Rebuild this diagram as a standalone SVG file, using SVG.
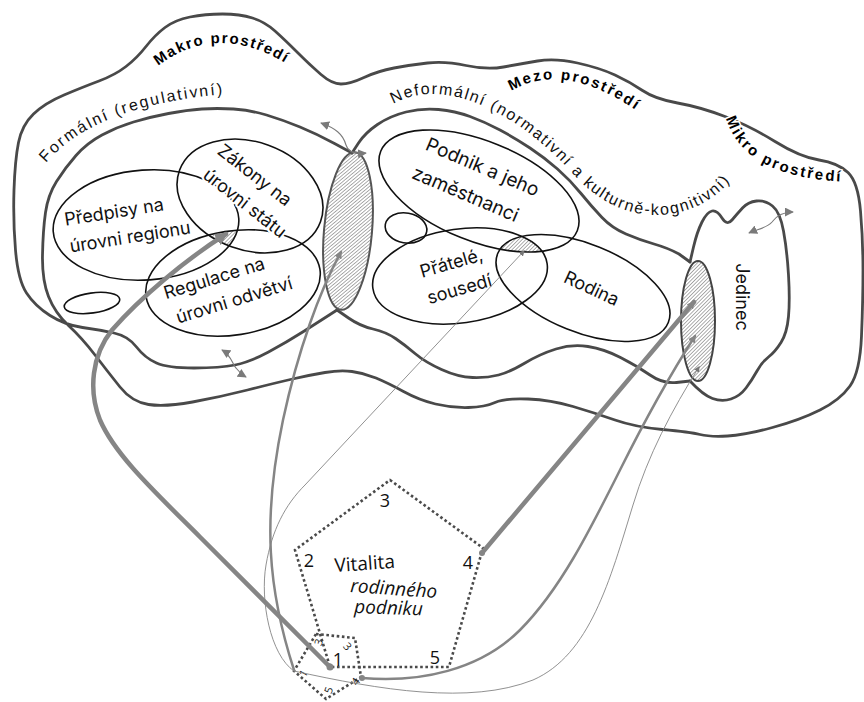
<svg xmlns="http://www.w3.org/2000/svg" width="864" height="702" viewBox="0 0 864 702">
<style>
.bd{fill:none;stroke:#4a4a4a;stroke-width:2.8;stroke-linejoin:round;stroke-linecap:round;filter:url(#soft)}
.el{fill:none;stroke:#111;stroke-width:1.6}
.lbl{font-family:Inter,'Liberation Sans',sans-serif;font-size:18px;fill:#111;text-anchor:middle;stroke:#fff;stroke-width:4;paint-order:stroke;stroke-linejoin:round}
.reg{font-family:'Liberation Sans',Arial,sans-serif;font-size:16px;fill:#111;letter-spacing:2px;stroke:#fff;stroke-width:3;paint-order:stroke}
.env{font-family:'Liberation Sans',Arial,sans-serif;font-size:15px;font-weight:bold;fill:#000;letter-spacing:1.6px;stroke:#fff;stroke-width:3;paint-order:stroke}
.pen{fill:none;stroke:#4a4a4a;stroke-width:2.6;stroke-dasharray:2.6 2.6}
.num{font-family:'Open Sans','Noto Sans',sans-serif;font-size:18px;fill:#111;text-anchor:middle}
.sn{font-family:'Open Sans','Noto Sans',sans-serif;font-size:11px;fill:#222;text-anchor:middle;dominant-baseline:central}
.vit{font-family:'Open Sans','Noto Sans',sans-serif;font-size:19px;fill:#111}
.cn{fill:none;stroke:#858585;stroke-linecap:round}
.dbl{fill:none;stroke:#7a7a7a;stroke-width:1.1;marker-start:url(#dh);marker-end:url(#dh)}
</style>
<defs>
<filter id="soft" x="-5%" y="-5%" width="110%" height="110%"><feGaussianBlur stdDeviation="0.65"/></filter>
<pattern id="hatch" patternUnits="userSpaceOnUse" width="2.6" height="2.6" patternTransform="rotate(45)"><line x1="0" y1="0" x2="0" y2="2.6" stroke="#5a5a5a" stroke-width="1"/></pattern>
<marker id="dh" viewBox="0 0 10 10" refX="9" refY="5" markerWidth="9" markerHeight="9" markerUnits="userSpaceOnUse" orient="auto-start-reverse"><path d="M0,0 L10,5 L0,10 z" fill="#7a7a7a"/></marker>
<marker id="a12" viewBox="0 0 10 10" refX="8" refY="5" markerWidth="13" markerHeight="13" markerUnits="userSpaceOnUse" orient="auto"><path d="M0,0 L10,5 L0,10 z" fill="#858585"/></marker>
<marker id="a8" viewBox="0 0 10 10" refX="8" refY="5" markerWidth="8" markerHeight="8" markerUnits="userSpaceOnUse" orient="auto"><path d="M0,0 L10,5 L0,10 z" fill="#858585"/></marker>
<marker id="a6" viewBox="0 0 10 10" refX="8" refY="5" markerWidth="6" markerHeight="6" markerUnits="userSpaceOnUse" orient="auto"><path d="M0,0 L10,5 L0,10 z" fill="#777"/></marker>
<clipPath id="cPred"><ellipse cx="0" cy="0" rx="93" ry="55" transform="translate(146,225) rotate(-4)"/></clipPath>
<clipPath id="cZak"><ellipse cx="0" cy="0" rx="75" ry="54" transform="translate(250,196) rotate(20)"/></clipPath>
<clipPath id="cReg"><ellipse cx="0" cy="0" rx="88" ry="52" transform="translate(233,283) rotate(-9)"/></clipPath>
<clipPath id="cPod"><ellipse cx="0" cy="0" rx="106" ry="50" transform="translate(479,191) rotate(22)"/></clipPath>
<clipPath id="cPra"><ellipse cx="0" cy="0" rx="88" ry="47" transform="translate(460,276) rotate(-8)"/></clipPath>
<clipPath id="cRod"><ellipse cx="0" cy="0" rx="92" ry="44" transform="translate(583,288) rotate(22)"/></clipPath>
<path id="tpMakro" d="M 158,66 Q 218,20 290,66"/>
<path id="tpForm" d="M 46,163 Q 95,105 226,94"/>
<path id="tpNef" d="M 393,104 C 425,86 462,95 492,110 C 522,125 550,148 577,178 C 602,205 636,219 670,214 C 703,209 728,191 745,158"/>
<path id="tpMezo" d="M 511,91 Q 568,58 648,119"/>
<path id="tpMikro" d="M 726,118 Q 744,180 854,182"/>
</defs>
<rect width="864" height="702" fill="#fff"/>

<g id="boundaries">
<path class="bd" d="M 337,310 L 328.5,315.5 Q 320,321 303.5,331.5 Q 287,342 268.5,352 Q 250,362 235,365 Q 220,368 194,368 Q 168,368 156.5,363 Q 145,358 136.5,347 Q 128,336 114,333 Q 100,330 82.5,327.5 Q 65,325 50,315.5 Q 35,306 26.5,293 Q 18,280 15.5,250 Q 13,220 14,190 Q 15,160 18.5,142.5 Q 22,125 33.5,114 Q 45,103 64,95 Q 83,87 99,81 Q 115,75 126,66.5 Q 137,58 146,46.5 Q 155,35 165,27.5 Q 175,20 190,17 Q 205,14 222.5,14 Q 240,14 252.5,18 Q 265,22 275,31 Q 285,40 297.5,52.5 Q 310,65 321,74.5 Q 332,84 341,84 Q 350,84 364,77.5 Q 378,71 394,68 Q 410,65 427.5,63 Q 445,61 466,65.5 Q 487,70 503.5,67 Q 520,64 537.5,61 Q 555,58 577.5,63 Q 600,68 615,75 Q 630,82 642.5,90.5 Q 655,99 677.5,103 Q 700,107 725,116.5 Q 750,126 775,141.5 Q 800,157 819,160 Q 838,163 848,172.5 Q 858,182 860.5,211 Q 863,240 863,270 Q 863,300 861.5,336 Q 860,372 850,386 Q 840,400 820,410 Q 800,420 772.5,427.5 Q 745,435 727.5,436 Q 710,437 700,434.5 Q 690,432 662.5,429.5 Q 635,427 615,420 Q 595,413 573,406.5 Q 551,400 528,399 Q 505,398 495,402.5 Q 485,407 468.5,407.5 Q 452,408 435.5,404 Q 419,400 403.5,391.5 Q 388,383 376,378 Q 364,373 352,371.5 Q 340,370 325,372.5 Q 310,375 292.5,379 Q 275,383 247.5,390 Q 220,397 192.5,402 Q 165,407 148.5,404.5 Q 132,402 120,387 Q 108,372 95,355 Q 82,338 68.5,325.5 Q 55,313 48.5,296.5 Q 42,280 42.5,255 Q 43,230 45.5,212.5 Q 48,195 56.5,181.5 Q 65,168 76,155.5 Q 87,143 102,135 Q 117,127 133.5,122 Q 150,117 168.5,113.5 Q 187,110 202,109 Q 217,108 233.5,109 Q 250,110 266.5,115 Q 283,120 300,127 Q 317,134 334.5,143.5 L 352,153"/>
<path class="bd" d="M 352,153 L 358.5,143 Q 365,133 377.5,124.5 Q 390,116 406,112 Q 422,108 438.5,109.5 Q 455,111 470,116.5 Q 485,122 500,130 Q 515,138 530,148 Q 545,158 557.5,169 Q 570,180 581,193.5 Q 592,207 602,217.5 Q 612,228 626,234 Q 640,240 654,244 Q 668,248 679,254 L 690,262"/>
<path class="bd" d="M 690,381 L 676.5,382.5 Q 663,384 650,375 Q 637,366 620.5,357.5 Q 604,349 588,346.5 Q 572,344 556,349 Q 540,354 525,363 Q 510,372 498.5,375 Q 487,378 472.5,377.5 Q 458,377 441.5,369.5 Q 425,362 415,353.5 Q 405,345 395.5,338.5 Q 386,332 373,329 Q 360,326 348.5,318 L 337,310"/>
<path class="bd" d="M 690,262 L 693.5,247 Q 697,232 702,222 Q 707,212 712,211 Q 717,210 722,218 Q 727,226 732,220 Q 737,214 742.5,208 Q 748,202 756.5,201 Q 765,200 772.5,206 Q 780,212 783.5,231 Q 787,250 788.5,275 Q 790,300 788.5,316.5 Q 787,333 781,342.5 Q 775,352 768.5,357 Q 762,362 757,371 Q 752,380 746,388 Q 740,396 731,399 Q 722,402 712.5,398.5 Q 703,395 690,381"/>
</g>

<g id="lens-formal-informal">
<ellipse cx="0" cy="0" rx="24" ry="79" transform="translate(348,231) rotate(5)" fill="url(#hatch)" stroke="#555" stroke-width="2"/>
</g>
<g id="lens-jedinec">
<ellipse cx="698" cy="321" rx="17" ry="60" fill="url(#hatch)" stroke="#444" stroke-width="2"/>
</g>

<g id="hatch-formal">
<g clip-path="url(#cPred)"><g clip-path="url(#cZak)"><rect x="170" y="190" width="100" height="80" fill="url(#hatch)" clip-path="url(#cReg)"/></g></g>
</g>
<g id="hatch-informal">
<g clip-path="url(#cPod)"><g clip-path="url(#cPra)"><rect x="480" y="200" width="100" height="80" fill="url(#hatch)" clip-path="url(#cRod)"/></g></g>
</g>

<g id="node-predpisy">
<ellipse class="el" cx="0" cy="0" rx="93" ry="55" transform="translate(146,225) rotate(-4)"/>
</g>
<g id="node-zakony">
<ellipse class="el" cx="0" cy="0" rx="75" ry="54" transform="translate(250,196) rotate(20)"/>
</g>
<g id="node-regulace">
<ellipse class="el" cx="0" cy="0" rx="88" ry="52" transform="translate(233,283) rotate(-9)"/>
</g>
<g id="node-small-formal">
<ellipse class="el" cx="0" cy="0" rx="28" ry="10" transform="translate(92,303) rotate(-8)"/>
</g>
<g id="node-podnik">
<ellipse class="el" cx="0" cy="0" rx="106" ry="50" transform="translate(479,191) rotate(22)"/>
</g>
<g id="node-small-informal">
<ellipse class="el" cx="0" cy="0" rx="21" ry="15" transform="translate(406,228) rotate(10)"/>
</g>
<g id="node-pratele">
<ellipse class="el" cx="0" cy="0" rx="88" ry="47" transform="translate(460,276) rotate(-8)"/>
</g>
<g id="node-rodina">
<ellipse class="el" cx="0" cy="0" rx="92" ry="44" transform="translate(583,288) rotate(22)"/>
</g>

<g id="labels-nodes">
<text class="lbl" transform="translate(115,218) rotate(-9)">Předpisy na</text>
<text class="lbl" transform="translate(131,243) rotate(-9)">úrovni regionu</text>
<text class="lbl" transform="translate(251,180) rotate(38)">Zákony na</text>
<text class="lbl" transform="translate(241,208) rotate(38)">úrovni státu</text>
<text class="lbl" transform="translate(216,284) rotate(-17)">Regulace na</text>
<text class="lbl" transform="translate(236,306) rotate(-17)">úrovni odvětví</text>
<text class="lbl" transform="translate(480,173) rotate(23)" style="font-size:19px">Podnik a jeho</text>
<text class="lbl" transform="translate(463,200) rotate(23)" style="font-size:19px">zaměstnanci</text>
<text class="lbl" transform="translate(453,269) rotate(-16)">Přátelé,</text>
<text class="lbl" transform="translate(461,295) rotate(-16)">sousedí</text>
<text class="lbl" transform="translate(589,294) rotate(25)">Rodina</text>
<text class="lbl" transform="translate(736,297) rotate(90)">Jedinec</text>
</g>

<g id="labels-regions">
<text class="env"><textPath href="#tpMakro">Makro prostředí</textPath></text>
<text class="reg"><textPath href="#tpForm">Formální  (regulativní)</textPath></text>
<text class="reg" style="letter-spacing:1.6px"><textPath href="#tpNef">Neformální (normativní  a kulturně-kognitivní)</textPath></text>
<text class="env" style="letter-spacing:2px"><textPath href="#tpMezo">Mezo prostředí</textPath></text>
<text class="env" style="letter-spacing:2.2px"><textPath href="#tpMikro">Mikro prostředí</textPath></text>
</g>

<g id="double-arrows">
<path class="dbl" d="M 321,123 C 335,128 343,134 346,145 C 348,153 356,154 366,153"/>
<path class="dbl" d="M 222,350 C 232,356 232,364 236,368 C 239,372 241,374 246,377"/>
<path class="dbl" d="M 749,233 C 758,229 767,228 772,222 C 777,215 784,212 793,212"/>
</g>

<g id="node-vitalita">
<path class="pen" d="M 390,480 L 483,548 L 449,667 L 330,667 L 295,550 Z"/>
<text class="num" x="385" y="507">3</text>
<text class="num" x="309" y="567">2</text>
<text class="num" x="468" y="569">4</text>
<text class="num" x="435" y="664">5</text>
<text class="num" x="338" y="666">1</text>
<text class="vit" transform="translate(335,572) rotate(-4)">Vitalita</text>
<text class="vit" font-style="italic" transform="translate(350,592) rotate(4)">rodinného</text>
<text class="vit" font-style="italic" transform="translate(354,613) rotate(2)">podniku</text>
</g>
<g id="node-small-pentagon">
<path class="pen" d="M 316,634 L 355,638 L 361,677 L 326,699 L 294,671 Z"/>
<text class="sn" transform="translate(318,642) rotate(-70)">3</text>
<text class="sn" transform="translate(348,646) rotate(50)">3</text>
<text class="sn" transform="translate(303,673) rotate(-60)">1</text>
<text class="sn" transform="translate(355,681) rotate(-55)">4</text>
<text class="sn" transform="translate(328,690) rotate(-70)">5</text>
</g>

<g id="connectors">
<path class="cn" stroke-width="4.5" marker-end="url(#a12)" d="M 330,667 L 200,537 C 155,492 115,455 100,420 C 88,390 92,355 112,330 C 140,298 185,260 226,234"/>
<path class="cn" stroke-width="2.5" marker-end="url(#a8)" d="M 294,670 C 268,590 262,520 283,420 C 298,350 320,290 341,252"/>
<path class="cn" stroke-width="0.9" stroke="#8a8a8a" marker-end="url(#a6)" d="M 294,671 C 270,655 260,600 266,565 C 272,530 285,505 305,485 L 524,251"/>
<path class="cn" stroke-width="0.9" stroke="#8a8a8a" marker-end="url(#a6)" d="M 294,671 C 380,690 470,705 533,680 C 590,655 610,580 633,505 C 648,455 672,410 699,367"/>
<path class="cn" stroke-width="2.5" marker-end="url(#a8)" d="M 362,678 C 420,683 480,670 520,630 C 560,590 590,530 620,470 C 645,420 670,375 695,336"/>
<path class="cn" stroke-width="4.5" marker-end="url(#a8)" d="M 482,553 L 694,302"/>
<circle cx="330" cy="667" r="3.5" fill="#858585"/>
<circle cx="362" cy="678" r="3" fill="#858585"/>
<circle cx="482" cy="553" r="3" fill="#858585"/>
</g>
</svg>
